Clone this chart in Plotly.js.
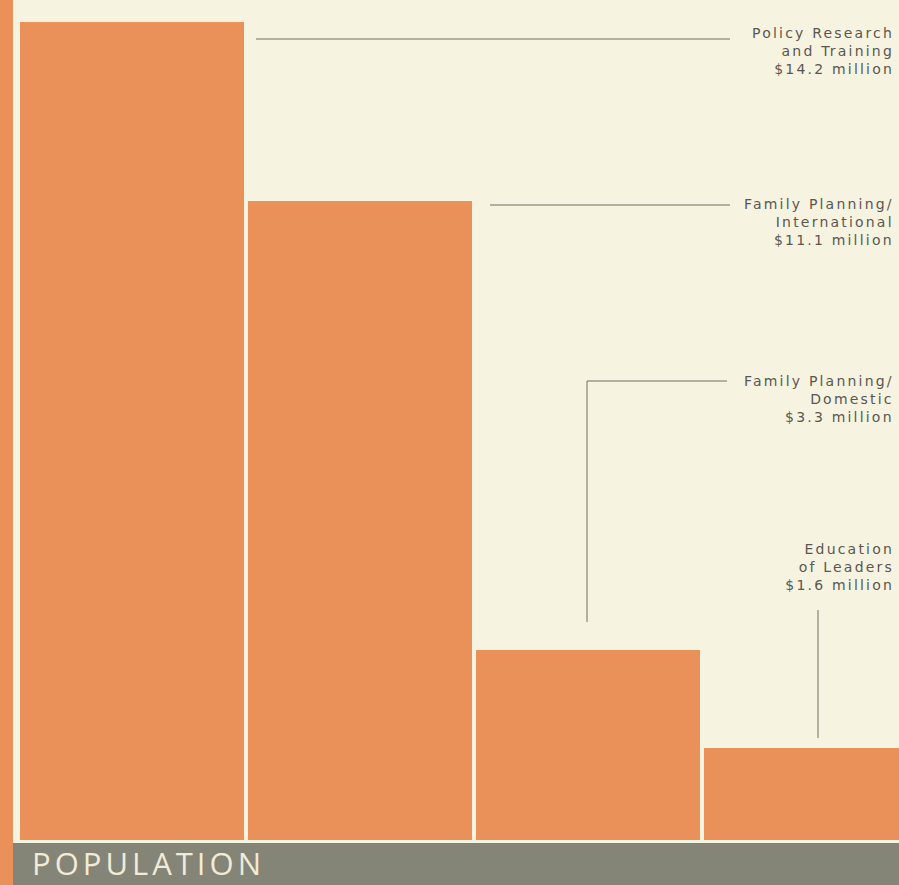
<!DOCTYPE html>
<html>
<head>
<meta charset="utf-8">
<script src="https://cdn.plot.ly/plotly-3.0.1.min.js"></script>
<style>
  html, body { margin: 0; padding: 0; background: #f6f3e1; }
  #chart { width: 899px; height: 885px; }
</style>
</head>
<body>
<div id="chart"></div>
<script>
// ---- data ----
const categories = ["Policy Research", "Family Planning/International", "Family Planning/Domestic", "Education of Leaders"];
const labelLines = [
  ["Policy Research", "and Training"],
  ["Family Planning/", "International"],
  ["Family Planning/", "Domestic"],
  ["Education", "of Leaders"]
];
const values = [14.2, 11.1, 3.3, 1.6];
const amountLabels = ["$14.2 million", "$11.1 million", "$3.3 million", "$1.6 million"];
const sectionTitle = "POPULATION";

// ---- layout helpers (pixel -> paper) ----
const W = 899, H = 885;
const px = x => x / W;
const py = y => 1 - y / H;

const barColor = "#ea915a";
const bg = "#f6f3e1";
const lineColor = "#6e6e66";
const textColor = "#5a5751";

const trace = {
  type: "bar",
  x: categories,
  y: values,
  width: 0.982,
  marker: { color: barColor, line: { width: 0 } },
  hovertemplate: "%{x}: $%{y} million<extra></extra>"
};

function seg(x0, y0, x1, y1) {
  return { type: "line", xref: "paper", yref: "paper",
           x0: px(x0), y0: py(y0), x1: px(x1), y1: py(y1),
           line: { color: lineColor, width: 1 } };
}

const shapes = [
  // left orange strip
  { type: "rect", xref: "paper", yref: "paper", x0: 0, x1: px(13), y0: 0, y1: 1,
    fillcolor: barColor, line: { width: 0 }, layer: "above" },
  // bottom grey band
  { type: "rect", xref: "paper", yref: "paper", x0: px(13), x1: 1, y0: 0, y1: py(843),
    fillcolor: "#848477", line: { width: 0 }, layer: "above" },
  // leader lines
  seg(256, 39, 730, 39),
  seg(490, 205, 730, 205),
  seg(587, 381, 727, 381),
  seg(587, 381, 587, 622),
  seg(818, 610, 818, 738)
];

const labelTops = [23, 194, 371, 539];
const annotations = labelLines.map((ls, i) => ({
  xref: "paper", yref: "paper",
  x: px(896), y: py(labelTops[i]),
  xanchor: "right", yanchor: "top", align: "right",
  width: 156,
  showarrow: false,
  text: ls.concat([amountLabels[i]]).join("<br>"),
  font: { family: "DejaVu Sans", size: 14, color: textColor }
}));
annotations.push({
  xref: "paper", yref: "paper",
  x: px(31), y: 0,
  xanchor: "left", yanchor: "bottom", align: "left",
  width: 240, borderpad: 0,
  showarrow: false,
  text: sectionTitle,
  font: { family: "Open Sans", size: 31, color: "#f1ebd8" }
});

const layout = {
  width: W, height: H,
  margin: { l: 0, r: 0, t: 0, b: 0 },
  paper_bgcolor: bg,
  plot_bgcolor: bg,
  showlegend: false,
  bargap: 0,
  xaxis: {
    type: "category",
    domain: [px(18), 1],
    range: [-0.5, 3.364],
    visible: false, fixedrange: true
  },
  yaxis: {
    domain: [py(840), py(22)],
    range: [0, 14.2],
    visible: false, fixedrange: true
  },
  shapes: shapes,
  annotations: annotations
};

Plotly.newPlot("chart", [trace], layout, { displayModeBar: false, staticPlot: true }).then(gd => {
  // widen the tracking of the printed labels
  gd.querySelectorAll(".annotation-text").forEach(el => {
    const big = el.textContent === sectionTitle;
    el.style.letterSpacing = big ? "4px" : "2.2px";
  });
});
</script>
</body>
</html>
